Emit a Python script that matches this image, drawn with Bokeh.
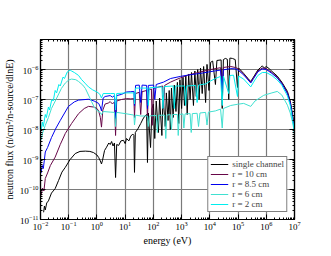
from bokeh.plotting import figure
from bokeh.models import LogAxis, FixedTicker, Legend, LegendItem, CustomJSTickFormatter
from bokeh.embed import file_html
from bokeh.resources import INLINE

# ---------------- data (energy in eV, flux) ----------------
x_tick_values = [1e-2, 1e-1, 1e0, 1e1, 1e2, 1e3, 1e4, 1e5, 1e6, 1e7]
y_tick_values = [1e-11, 1e-10, 1e-9, 1e-8, 1e-7, 1e-6]

series_labels = ["single channel", "r = 10 cm", "r = 8.5 cm", "r = 6 cm", "r = 2 cm"]

e_single = [1.29e-2, 1.38e-2, 1.48e-2, 1.66e-2, 1.91e-2, 2.45e-2, 3.31e-2, 4.37e-2, 5.75e-2, 7.59e-2,
            0.112, 0.17, 0.251, 0.389, 0.562, 0.759, 1.0, 1.15, 1.32, 1.45, 1.58, 1.86, 2.19, 2.63,
            2.95, 3.31, 3.72, 4.17, 4.57, 5.01, 5.89, 7.08, 8.71, 10.0, 11.2, 13.5, 15.8, 18.6, 20.4,
            21.4, 22.9, 28.2, 35.5, 42.7, 50.1, 57.5, 61.7, 66.1, 79.4, 89.1, 100, 112, 126, 151, 166,
            200, 219, 263, 288, 331, 363, 398, 437, 501, 550, 631, 708, 794, 871, 1000, 1120, 1260,
            1410, 1580, 1780, 2000, 2240, 2630, 2950, 3310, 3720, 4170, 4680, 5370, 6030, 7080, 7940,
            9330, 10700, 12600, 15800, 17800, 25100, 27500, 30200, 35500, 41700, 46800, 51300, 63100,
            79400, 95500, 105000, 158000, 224000, 282000, 355000, 501000, 631000, 724000, 851000,
            1.0e6, 1.26e6, 1.58e6, 2.45e6, 3.55e6, 5.62e6, 7.08e6, 8.51e6, 9.55e6, 1.0e7]
f_single = [1.74e-11, 2.82e-11, 2.09e-11, 3.55e-11, 4.17e-11, 7.59e-11, 1.07e-10, 2.0e-10, 3.8e-10, 5.5e-10,
            1.0e-9, 1.58e-9, 1.86e-9, 1.9e-9, 1.86e-9, 1.7e-9, 1.41e-9, 1.17e-9, 8.9e-10, 7.1e-10, 9.5e-10,
            2.0e-9, 2.57e-9, 3.55e-9, 3.16e-9, 3.98e-9, 2.82e-9, 3.55e-9, 2.51e-10, 3.16e-9, 2.95e-9,
            4.17e-9, 4.37e-9, 3.39e-9, 5.01e-9, 4.17e-9, 6.03e-9, 7.08e-9, 6.31e-9, 3.72e-10, 7.94e-9,
            1.05e-8, 1.58e-8, 2.24e-8, 2.82e-8, 3.16e-8, 7.94e-10, 3.55e-8, 2.51e-9, 5.01e-8, 7.08e-8,
            5.01e-9, 8.91e-8, 7.94e-9, 1.12e-7, 6.31e-9, 1.35e-7, 1.26e-8, 1.66e-7, 2.0e-8, 2.0e-7,
            1.0e-8, 2.4e-7, 2.51e-8, 3.02e-7, 3.98e-8, 3.72e-7, 1.58e-8, 4.57e-7, 5.01e-8, 5.5e-7,
            6.31e-8, 6.17e-7, 3.16e-8, 7.08e-7, 1.0e-7, 7.94e-7, 6.31e-8, 8.91e-7, 1.26e-7, 1.0e-6,
            1.0e-7, 1.12e-6, 1.58e-7, 1.26e-6, 7.94e-8, 1.48e-6, 2.0e-7, 1.74e-6, 1.91e-6, 3.16e-7,
            2.0e-6, 2.09e-6, 5.01e-8, 2.14e-6, 2.34e-6, 2.19e-6, 1.0e-7, 2.4e-6, 2.34e-6, 2.14e-6,
            2.51e-7, 1.12e-6, 7.41e-7, 5.01e-7, 3.98e-7, 5.62e-7, 9.55e-7, 1.17e-6, 1.32e-6, 1.12e-6,
            1.26e-6, 1.07e-6, 8.71e-7, 6.03e-7, 3.8e-7, 1.86e-7, 8.91e-8, 3.16e-8, 1.58e-8, 1.0e-8]

e_r10 = [1.05e-2, 1.17e-2, 1.32e-2, 1.48e-2, 1.78e-2, 2.24e-2, 3.31e-2, 5.01e-2, 7.59e-2, 0.126, 0.224,
         0.355, 0.501, 0.759, 1.0, 1.15, 1.32, 1.45, 1.62, 1.95, 2.51, 2.95, 3.55, 4.17, 4.57, 5.01,
         7.41, 11.2, 15.8, 20.4, 21.4, 23.4, 31.6, 35.5, 39.8, 57.5, 61.7, 66.1, 85.1, 91.2, 100, 158,
         214, 229, 251, 407, 631, 912, 1620, 3160, 4680, 10700, 24000, 27500, 30200, 55000, 79400,
         100000, 158000, 282000, 355000, 501000, 724000, 1.0e6, 1.58e6, 2.45e6, 3.55e6, 5.62e6,
         7.08e6, 8.51e6, 9.55e6, 1.0e7]
f_r10 = [6.31e-11, 1.12e-10, 8.91e-11, 2.34e-10, 3.55e-10, 6.31e-10, 1.2e-9, 3.16e-9, 7.41e-9, 1.58e-8,
         3.39e-8, 5.01e-8, 5.89e-8, 5.62e-8, 5.01e-8, 4.17e-8, 2.51e-8, 1.2e-8, 4.47e-8, 7.08e-8,
         7.59e-8, 8.51e-8, 7.08e-8, 8.32e-8, 6.31e-9, 8.91e-8, 1.0e-7, 1.07e-7, 1.05e-7, 1.07e-7,
         2.51e-8, 1.58e-7, 1.74e-7, 3.16e-8, 1.82e-7, 2.0e-7, 2.0e-8, 2.09e-7, 2.24e-7, 1.38e-8,
         2.34e-7, 2.63e-7, 2.82e-7, 5.01e-8, 2.95e-7, 3.8e-7, 4.57e-7, 5.25e-7, 6.46e-7, 7.59e-7,
         8.32e-7, 1.0e-6, 1.15e-6, 2.51e-7, 1.17e-6, 1.26e-6, 1.17e-6, 1.07e-6, 7.08e-7, 3.8e-7,
         5.37e-7, 8.91e-7, 1.12e-6, 1.07e-6, 7.94e-7, 5.5e-7, 3.55e-7, 1.66e-7, 7.94e-8, 2.82e-8,
         1.41e-8, 8.91e-9]

e_r85 = [1.05e-2, 1.15e-2, 1.26e-2, 1.48e-2, 1.78e-2, 2.45e-2, 3.55e-2, 5.01e-2, 9.77e-2, 0.158, 0.224,
         0.501, 0.794, 1.15, 1.32, 1.45, 1.66, 1.95, 2.95, 3.55, 4.17, 4.57, 5.01, 7.41, 11.2, 15.8,
         20.4, 21.4, 23.4, 31.6, 35.5, 39.8, 57.5, 61.7, 66.1, 102, 112, 126, 229, 407, 912, 1620,
         3160, 4680, 10700, 24000, 27500, 30200, 55000, 79400, 100000, 158000, 282000, 355000,
         501000, 724000, 1.0e6, 1.58e6, 2.45e6, 3.55e6, 5.62e6, 7.08e6, 8.51e6, 9.55e6, 1.0e7]
f_r85 = [3.55e-10, 6.31e-10, 5.01e-10, 1.78e-9, 2.51e-9, 5.37e-9, 1.12e-8, 2.0e-8, 5.89e-8, 8.32e-8,
         9.55e-8, 1.02e-7, 8.91e-8, 7.41e-8, 5.62e-8, 4.17e-8, 1.12e-7, 1.26e-7, 1.35e-7, 1.2e-7,
         1.35e-7, 2.34e-8, 1.35e-7, 1.48e-7, 1.78e-7, 1.82e-7, 1.86e-7, 6.31e-8, 2.95e-7, 3.02e-7,
         7.94e-8, 3.02e-7, 2.95e-7, 5.01e-8, 2.95e-7, 3.02e-7, 1.0e-7, 3.16e-7, 3.8e-7, 5.01e-7,
         5.89e-7, 6.46e-7, 7.08e-7, 7.41e-7, 8.51e-7, 9.55e-7, 2.0e-7, 9.77e-7, 1.07e-6, 1.05e-6,
         9.55e-7, 6.61e-7, 3.55e-7, 5.01e-7, 8.32e-7, 1.05e-6, 1.0e-6, 7.41e-7, 5.25e-7, 3.39e-7,
         1.58e-7, 7.59e-8, 2.63e-8, 1.26e-8, 7.94e-9]

e_r6 = [1.05e-2, 1.2e-2, 1.48e-2, 1.91e-2, 2.45e-2, 3.55e-2, 5.5e-2, 7.59e-2, 0.1, 0.126, 0.178, 0.224,
        0.316, 0.389, 0.501, 0.646, 0.794, 0.977, 1.26, 1.45, 1.66, 2.95, 4.17, 4.57, 5.01, 10.0, 20.4,
        21.4, 23.4, 35.5, 61.7, 66.1, 72.4, 126, 138, 151, 251, 275, 302, 398, 437, 479, 708, 759, 832,
        1120, 1200, 1320, 2000, 2190, 2400, 3550, 3980, 4470, 7080, 7940, 8910, 15800, 24000, 27500,
        30200, 55000, 95500, 158000, 282000, 398000, 813000, 1.58e6, 2.45e6, 3.55e6, 5.62e6, 7.08e6,
        8.51e6, 9.55e6, 1.0e7]
f_r6 = [4.47e-9, 7.94e-9, 1.38e-8, 2.51e-8, 5.01e-8, 1.0e-7, 2.34e-7, 3.55e-7, 4.47e-7, 4.79e-7, 4.57e-7,
        3.98e-7, 3.02e-7, 2.34e-7, 1.41e-7, 8.51e-8, 5.62e-8, 4.37e-8, 3.8e-8, 3.16e-8, 3.98e-8, 3.8e-8,
        3.72e-8, 1.26e-8, 3.72e-8, 3.39e-8, 3.02e-8, 1.41e-8, 3.02e-8, 2.82e-8, 2.82e-8, 1.26e-8,
        2.82e-8, 2.95e-8, 7.94e-9, 2.95e-8, 3.02e-8, 5.01e-9, 3.02e-8, 3.16e-8, 1.0e-8, 3.16e-8,
        3.16e-8, 6.31e-9, 3.16e-8, 3.31e-8, 1.12e-8, 3.31e-8, 3.39e-8, 7.94e-9, 3.39e-8, 3.47e-8,
        1.26e-8, 3.55e-8, 3.72e-8, 1.41e-8, 3.8e-8, 4.17e-8, 4.79e-8, 1.12e-8, 5.01e-8, 6.31e-8,
        6.92e-8, 7.41e-8, 5.89e-8, 8.91e-8, 1.38e-7, 1.66e-7, 1.86e-7, 1.41e-7, 6.46e-8, 3.55e-8,
        1.78e-8, 1.0e-8, 6.31e-9]

e_r2 = [1.05e-2, 1.17e-2, 1.26e-2, 1.48e-2, 1.62e-2, 1.91e-2, 2.09e-2, 2.51e-2, 2.82e-2, 3.31e-2,
        3.72e-2, 4.47e-2, 5.01e-2, 6.31e-2, 7.08e-2, 8.91e-2, 0.112, 0.126, 0.158, 0.224, 0.282, 0.398,
        0.501, 0.708, 1.0, 1.26, 1.45, 1.66, 2.95, 4.17, 4.57, 5.01, 11.2, 20.4, 21.4, 23.4, 61.7,
        66.1, 72.4, 200, 219, 240, 501, 550, 603, 1260, 1380, 1510, 3160, 3550, 3980, 7080, 10700,
        15800, 24000, 27500, 30200, 46800, 51300, 69200, 95500, 105000, 158000, 282000, 355000,
        501000, 724000, 1.0e6, 1.58e6, 2.45e6, 3.55e6, 5.62e6, 7.08e6, 8.51e6, 9.55e6, 1.0e7]
f_r2 = [8.91e-9, 1.78e-8, 1.26e-8, 3.16e-8, 2.51e-8, 5.62e-8, 4.47e-8, 1.0e-7, 8.91e-8, 2.0e-7,
        1.66e-7, 3.16e-7, 2.82e-7, 5.62e-7, 5.01e-7, 8.32e-7, 9.55e-7, 8.91e-7, 7.94e-7, 6.31e-7,
        4.68e-7, 3.31e-7, 2.63e-7, 2.09e-7, 1.78e-7, 1.51e-7, 1.12e-7, 1.58e-7, 1.58e-7, 1.58e-7,
        4.47e-8, 1.58e-7, 1.66e-7, 1.66e-7, 7.08e-8, 2.4e-7, 2.4e-7, 6.31e-8, 2.45e-7, 2.63e-7,
        5.01e-8, 2.69e-7, 2.82e-7, 5.01e-8, 2.82e-7, 2.82e-7, 6.31e-8, 2.82e-7, 2.95e-7, 7.94e-8,
        3.02e-7, 3.31e-7, 4.17e-7, 5.01e-7, 5.89e-7, 6.31e-8, 6.03e-7, 1.58e-7, 6.31e-7, 6.46e-7,
        1.26e-7, 6.03e-7, 4.79e-7, 2.63e-7, 3.8e-7, 6.31e-7, 7.94e-7, 7.94e-7, 6.31e-7, 4.47e-7,
        3.02e-7, 1.32e-7, 6.31e-8, 2.24e-8, 1.12e-8, 7.08e-9]

# ---------------- figure ----------------
SERIF = "Liberation Serif"

p = figure(width=323, height=250, x_axis_type="log", y_axis_type="log",
           x_range=(1e-2, 1e7), y_range=(1e-11, 1e-5),
           output_backend="svg", toolbar_location=None,
           min_border_left=40, min_border_right=29, min_border_top=39, min_border_bottom=31,
           x_axis_label="energy (eV)",
           y_axis_label="neutron flux (n/cm\u00b2/n-source/dlnE)")

x_minor = [m * 10.0 ** k for k in range(-2, 7) for m in range(2, 10)]
y_minor = [m * 10.0 ** k for k in range(-11, -5) for m in range(2, 10)]
xticker = FixedTicker(ticks=x_tick_values, minor_ticks=x_minor)
yticker = FixedTicker(ticks=y_tick_values + [1e-5], minor_ticks=y_minor)
ylabel_ticker = FixedTicker(ticks=y_tick_values, minor_ticks=y_minor)

p.xaxis.ticker = xticker
p.yaxis.ticker = ylabel_ticker

blank = CustomJSTickFormatter(code="return ''")
p.add_layout(LogAxis(ticker=xticker, formatter=blank), "above")
p.add_layout(LogAxis(ticker=yticker, formatter=blank), "right")

for ax in p.axis:
    ax.major_tick_in = 5
    ax.major_tick_out = 0
    ax.minor_tick_in = 2
    ax.minor_tick_out = 0
    ax.axis_line_color = "black"
    ax.axis_line_width = 1.2
    ax.major_tick_line_color = "black"
    ax.minor_tick_line_color = "black"
    ax.major_label_text_font = SERIF
    ax.major_label_text_font_size = "9px"
    ax.major_label_text_color = "black"
    ax.major_label_standoff = 2
    ax.axis_label_text_font = SERIF
    ax.axis_label_text_font_size = "10px"
    ax.axis_label_text_font_style = "normal"
    ax.axis_label_text_color = "black"
    ax.axis_label_standoff = 2

p.xgrid.ticker = xticker
p.ygrid.ticker = yticker
p.grid.grid_line_color = "#7a7a7a"
p.grid.grid_line_width = 1.2
p.outline_line_color = "black"
p.outline_line_width = 1.2
p.background_fill_color = "white"
p.border_fill_color = "white"

colors = ["#000000", "#670748", "#0000ee", "#40e0d0", "#00eeee"]
data = [(e_single, f_single), (e_r10, f_r10), (e_r85, f_r85), (e_r6, f_r6), (e_r2, f_r2)]
renderers = []
for (e, f), c in zip(data, colors):
    renderers.append(p.line(e, f, line_color=c, line_width=1))

items = [LegendItem(label=lab, renderers=[r]) for lab, r in zip(series_labels, renderers)]
legend = Legend(items=items, location="bottom_right",
                label_text_font=SERIF, label_text_font_size="9px",
                glyph_width=18, glyph_height=8, label_height=8, label_standoff=4,
                spacing=-1, padding=2, margin=7,
                border_line_color="black", border_line_width=1,
                background_fill_color="white", background_fill_alpha=1)
p.add_layout(legend)

open("out.html", "w").write(file_html(p, INLINE))
